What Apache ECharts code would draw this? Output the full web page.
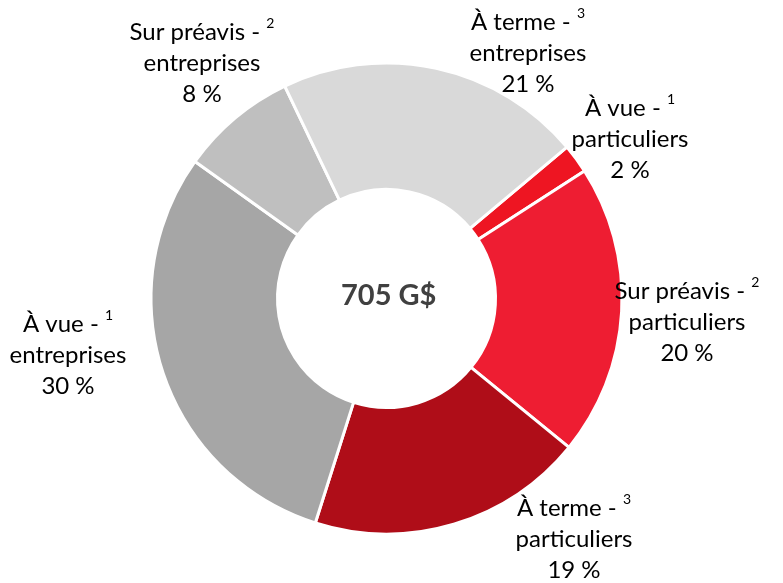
<!DOCTYPE html>
<html>
<head>
<meta charset="utf-8">
<script src="https://cdn.jsdelivr.net/npm/echarts@6/dist/echarts.min.js"></script>
<style>
  html, body { margin: 0; padding: 0; background: #ffffff; }
  #chart { width: 783px; height: 583px; }
</style>
</head>
<body>
<div id="chart"></div>
<script>
// Deposit mix by type and client segment (share of total, %)
const typeNames = ['À vue', 'Sur préavis', 'À terme', 'À vue', 'Sur préavis', 'À terme'];
const notes = ['1', '2', '3', '1', '2', '3'];
const segments = ['particuliers', 'particuliers', 'particuliers', 'entreprises', 'entreprises', 'entreprises'];
const shares = [2, 20, 19, 30, 8, 21];
const totalLabel = '705 G$';

const sliceColors = ['#EE1522', '#EE1D32', '#AF0D18', '#A6A6A6', '#BFBFBF', '#D9D9D9'];
// Centre of each label block, in pixels
const labelSpots = [[630, 139], [687, 322], [574, 539], [68, 355], [202, 63], [528, 53]];

const chart = echarts.init(document.getElementById('chart'), null, { renderer: 'canvas' });

const FONT = 'Lato';

chart.setOption({
  animation: false,
  backgroundColor: '#ffffff',
  graphic: [{
    type: 'text',
    left: 386 - 45,
    top: 298 - 17,
    style: {
      text: totalLabel,
      font: 'bold 29px ' + FONT,
      fill: '#404040'
    }
  }],
  series: [{
    type: 'pie',
    center: [386.5, 298.5],
    radius: [109, 235.5],
    startAngle: 40,
    clockwise: true,
    avoidLabelOverlap: false,
    itemStyle: { borderColor: '#ffffff', borderWidth: 3 },
    label: {
      show: true,
      position: 'outside',
      formatter: function (p) {
        const i = p.dataIndex;
        return '{t|' + typeNames[i] + ' - }{s|' + notes[i] + '}\n{t|' + segments[i] + '}\n{t|' + shares[i] + ' %}';
      },
      align: 'center',
      rich: {
        t: { fontFamily: FONT, fontSize: 24, color: '#000000', lineHeight: 31 },
        s: { fontFamily: FONT, fontSize: 14, color: '#000000', lineHeight: 31, verticalAlign: 'top' }
      }
    },
    labelLine: { show: false },
    labelLayout: function (params) {
      const spot = labelSpots[params.dataIndex];
      return { x: spot[0], y: spot[1], align: 'center', verticalAlign: 'middle' };
    },
    data: shares.map(function (v, i) {
      return { value: v, name: typeNames[i] + ' ' + segments[i], itemStyle: { color: sliceColors[i] } };
    })
  }]
});
</script>
</body>
</html>
